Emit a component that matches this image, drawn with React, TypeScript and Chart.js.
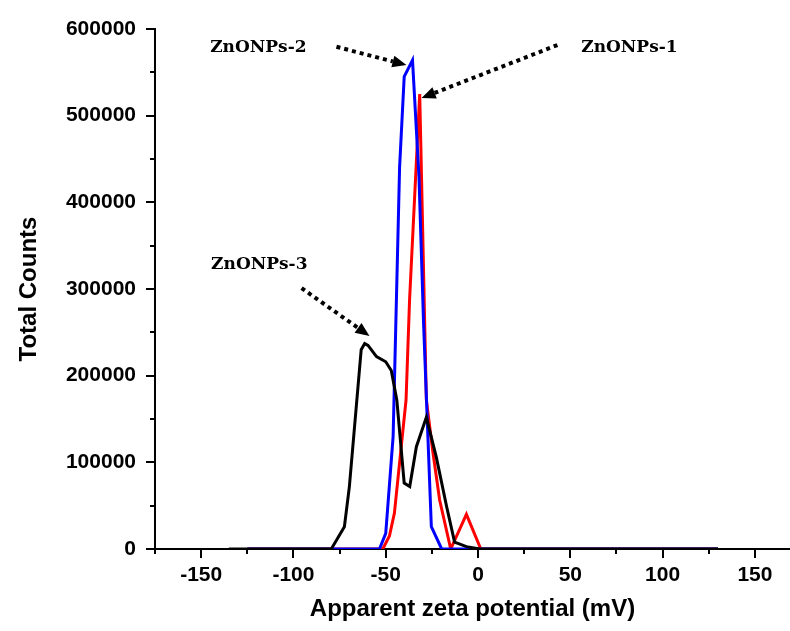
import React, { useEffect, useRef } from 'react';
import { Chart, registerables } from 'chart.js';

Chart.register(...registerables);

// ZnONPs-3 (black)
const zeta3 = [-135, -79.5, -72.4, -69.7, -63.3, -61.4, -59.6, -55, -50, -47, -44, -40, -37, -33.4, -28, -22.6, -17, -12.7, -6.3, 0.9, 130];
const counts3 = [0, 0, 25700, 72000, 230000, 237000, 235000, 222000, 216000, 206000, 172000, 76000, 72000, 118000, 152000, 106000, 48800, 8000, 2700, 0, 0];

// ZnONPs-2 (blue)
const zeta2 = [-125, -53.4, -50, -46, -42.5, -40, -35.5, -32, -29.5, -25.3, -19.7, 130];
const counts2 = [0, 0, 18000, 130000, 440000, 545000, 564000, 430000, 260000, 25700, 0, 0];

// ZnONPs-1 (red)
const zeta1 = [-125, -51.6, -48, -45.3, -39, -37.1, -31.6, -28, -24.6, -20.8, -14.8, -6.3, 1.5, 130];
const counts1 = [0, 0, 15000, 41500, 172000, 287000, 525000, 172000, 114000, 56500, 0, 40000, 0, 0];

// Axis settings
const xMin = -175;
const xMax = 169;
const yMin = 0;
const yMax = 600000;

// Annotation labels and arrows (data coordinates)
const labelNames = ['ZnONPs-1', 'ZnONPs-2', 'ZnONPs-3'];
const labelX = [82, -119, -118.5];
const labelY = [579000, 579000, 328000];
const arrowFromX = [43, -76.7, -95.6];
const arrowFromY = [581500, 579500, 301000];
const arrowToX = [-30.6, -38.8, -58.8];
const arrowToY = [520400, 558400, 245800];

const toPts = (xs: number[], ys: number[]) => xs.map((x, i) => ({ x, y: ys[i] }));

const tickPlugin = {
  id: 'customTicks',
  afterDraw(chart: any) {
    const { ctx, scales, chartArea } = chart;
    const x = scales.x;
    const y = scales.y;
    ctx.save();
    ctx.strokeStyle = '#000';
    ctx.lineWidth = 2;
    ctx.beginPath();
    for (let v = xMin; v <= xMax; v += 25) {
      const px = Math.round(x.getPixelForValue(v));
      const len = v % 50 === 0 ? 9 : 5;
      ctx.moveTo(px, chartArea.bottom);
      ctx.lineTo(px, chartArea.bottom + len);
    }
    for (let v = yMin; v <= yMax; v += 50000) {
      const py = Math.round(y.getPixelForValue(v));
      const len = v % 100000 === 0 ? 9 : 5;
      ctx.moveTo(chartArea.left - len, py);
      ctx.lineTo(chartArea.left, py);
    }
    ctx.stroke();

    // annotations
    ctx.fillStyle = '#000';
    ctx.font = 'bold 17px "DejaVu Serif"';
    ctx.textAlign = 'center';
    ctx.textBaseline = 'middle';
    labelNames.forEach((name, i) => {
      ctx.fillText(name, x.getPixelForValue(labelX[i]), y.getPixelForValue(labelY[i]));
    });
    for (let i = 0; i < arrowFromX.length; i++) {
      const x0 = x.getPixelForValue(arrowFromX[i]);
      const y0 = y.getPixelForValue(arrowFromY[i]);
      const x1 = x.getPixelForValue(arrowToX[i]);
      const y1 = y.getPixelForValue(arrowToY[i]);
      const ang = Math.atan2(y1 - y0, x1 - x0);
      const headLen = 14;
      const headW = 6;
      const bx = x1 - headLen * Math.cos(ang);
      const by = y1 - headLen * Math.sin(ang);
      ctx.save();
      ctx.setLineDash([4, 4]);
      ctx.lineWidth = 4;
      ctx.beginPath();
      ctx.moveTo(x0, y0);
      ctx.lineTo(bx, by);
      ctx.stroke();
      ctx.restore();
      ctx.beginPath();
      ctx.moveTo(x1, y1);
      ctx.lineTo(bx + headW * Math.sin(ang), by - headW * Math.cos(ang));
      ctx.lineTo(bx - headW * Math.sin(ang), by + headW * Math.cos(ang));
      ctx.closePath();
      ctx.fill();
    }
    ctx.restore();
  },
};

export default function App() {
  const ref = useRef<HTMLCanvasElement | null>(null);
  useEffect(() => {
    if (!ref.current) return;
    const chart = new Chart(ref.current, {
      type: 'line',
      data: {
        datasets: [
          { label: 'ZnONPs-3', data: toPts(zeta3, counts3), borderColor: '#000000', borderWidth: 3, pointRadius: 0, tension: 0 },
          { label: 'ZnONPs-2', data: toPts(zeta2, counts2), borderColor: '#0000ff', borderWidth: 3, pointRadius: 0, tension: 0 },
          { label: 'ZnONPs-1', data: toPts(zeta1, counts1), borderColor: '#ff0000', borderWidth: 3, pointRadius: 0, tension: 0 },
        ],
      },
      options: {
        animation: false,
        responsive: false,
        devicePixelRatio: 1,
        layout: { padding: { top: 29, right: 0, left: 0, bottom: 0 } },
        plugins: { legend: { display: false }, tooltip: { enabled: false } },
        scales: {
          x: {
            type: 'linear',
            min: xMin,
            max: xMax,
            afterFit: (s: any) => { s.height = 82; s.paddingRight = 0; s.paddingLeft = 0; },
            grid: { display: false, drawTicks: false },
            border: { display: true, color: '#000', width: 2 },
            ticks: {
              stepSize: 25,
              includeBounds: false,
              autoSkip: false,
              maxRotation: 0,
              padding: 14,
              color: '#000',
              font: { family: '"Liberation Sans", Arial, sans-serif', size: 21, weight: 'bold' },
              callback: (v: any) => (Number(v) % 50 === 0 ? String(v) : ''),
            },
            title: {
              display: true,
              text: 'Apparent zeta potential (mV)',
              color: '#000',
              font: { family: '"Liberation Sans", Arial, sans-serif', size: 24, weight: 'bold' },
              padding: { top: 0, bottom: 7 },
            },
          },
          y: {
            type: 'linear',
            min: yMin,
            max: yMax,
            afterFit: (s: any) => { s.width = 155; s.paddingTop = 0; s.paddingBottom = 0; },
            grid: { display: false, drawTicks: false },
            border: { display: true, color: '#000', width: 2 },
            ticks: {
              stepSize: 50000,
              autoSkip: false,
              padding: 19,
              color: '#000',
              font: { family: '"Liberation Sans", Arial, sans-serif', size: 21, weight: 'bold' },
              callback: (v: any) => (Number(v) % 100000 === 0 ? String(v) : ''),
            },
            title: {
              display: true,
              text: 'Total Counts',
              color: '#000',
              font: { family: '"Liberation Sans", Arial, sans-serif', size: 24, weight: 'bold' },
              padding: { top: 15, bottom: 0 },
            },
          },
        },
      },
      plugins: [tickPlugin],
    });
    return () => chart.destroy();
  }, []);
  return (
    <div style={{ position: 'absolute', left: 0, top: 0, width: 790, height: 631, background: '#fff' }}>
      <canvas ref={ref} width={790} height={631} style={{ width: 790, height: 631 }} />
    </div>
  );
}
